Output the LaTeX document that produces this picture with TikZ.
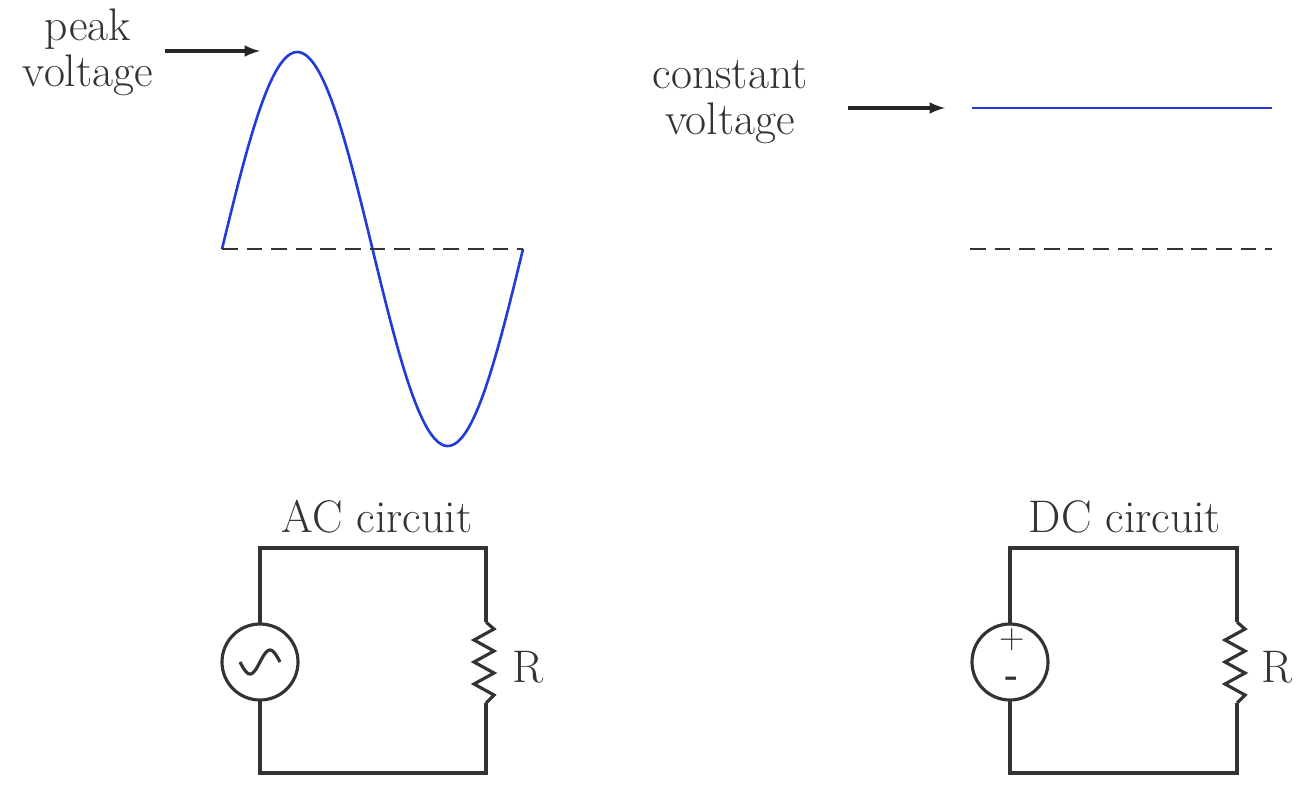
\documentclass[tikz,border=0pt]{standalone}
\usetikzlibrary{arrows}
\usetikzlibrary{positioning}
\usetikzlibrary{calc}
\definecolor{wireblue}{RGB}{35,60,215}
\begin{document}
\begin{tikzpicture}[x=0.02cm,y=-0.02cm]
\tikzstyle{lbl}=[font=\fontsize{26}{26}\selectfont,text=black!80,align=center,inner sep=1pt]
\tikzstyle{sign}=[font=\fontsize{20}{20}\selectfont,text=black!80,inner sep=0pt]
\tikzstyle{wave}=[draw=wireblue,line width=1.5pt]
\tikzstyle{axis}=[dashed,dash pattern=on 9pt off 5pt,line width=1.6pt,black!80]
\tikzstyle{pointer}=[-latex,line width=2pt,black!85,>=latex]
\tikzstyle{wire}=[line width=1.8pt,black!80]
\useasboundingbox (0,0) rectangle (1308,792);
%signaux
\draw[wave] plot[domain=0:301,samples=120,smooth] ({222+\x},{249-197*sin(1.196*\x)});
\draw[axis] (222,249) -- (523,249);
\draw[wave] (972,108) -- (1272,108);
\draw[axis] (970,249) -- (1272,249);
%etiquettes
\node[lbl] (peak) at (88,52) {peak\\voltage};
\coordinate (peaktip) at (260,51);
\draw[pointer] (165,51) -- (peaktip);
\node[lbl] (const) at (730,102) {constant\\voltage};
\coordinate (consttip) at (945,108);
\draw[pointer] (848,108) -- (consttip);
%circuit AC
\node[lbl] (actitle) at (377,517) {AC circuit};
\draw[wire] (260,624) -- (260,548) -- (486,548) -- (486,622);
\draw[wire] (486,703) -- (486,773) -- (260,773) -- (260,700);
\draw[wire] (260,662) circle (38);
\draw[wire] plot[domain=-20:20,samples=40,smooth] ({260+\x},{662-12*sin(9*\x)});
\draw[wire] (486,622) -- (494,629) -- (474,640) -- (494,651) -- (474,662) -- (494,673) -- (474,684) -- (494,695) -- (486,703);
\node[lbl] (acR) at (528,667) {R};
%circuit DC
\node[lbl] (dctitle) at (1125,517) {DC circuit};
\draw[wire] (1010,624) -- (1010,548) -- (1237,548) -- (1237,622);
\draw[wire] (1237,703) -- (1237,773) -- (1010,773) -- (1010,700);
\draw[wire] (1010,662) circle (38);
\node[sign] (plus) at (1012,640) {+};
\node[sign] (minus) at (1012,682) {\textbf{-}};
\draw[wire] (1237,622) -- (1245,629) -- (1225,640) -- (1245,651) -- (1225,662) -- (1245,673) -- (1225,684) -- (1245,695) -- (1237,703);
\node[lbl] (dcR) at (1277,667) {R};
\end{tikzpicture}
\end{document}
